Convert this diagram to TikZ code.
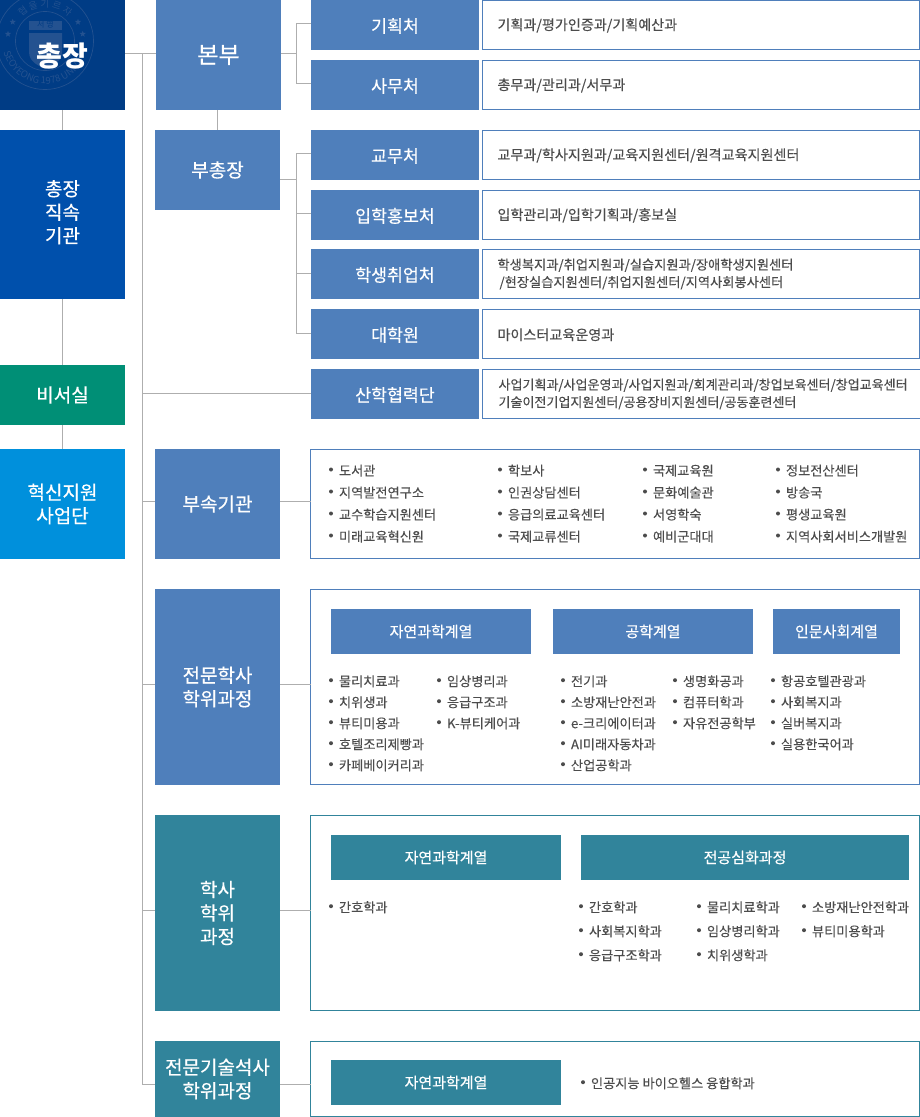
\documentclass[tikz,border=0pt]{standalone}
\usepackage{fontspec}
\setmainfont{Noto Sans CJK KR}
\newfontfamily\labelfont{Noto Sans CJK KR}[FakeBold=0.35]
\newfontfamily\bodyfont{Noto Sans CJK KR}[FakeBold=0.15]
\definecolor{presblue}{HTML}{003C85}
\definecolor{sealgray}{HTML}{245290}
\definecolor{directblue}{HTML}{0050AC}
\definecolor{secretgreen}{HTML}{008F76}
\definecolor{innovblue}{HTML}{0090DC}
\definecolor{deptblue}{HTML}{4F7FBB}
\definecolor{deptteal}{HTML}{31849B}
\definecolor{linegray}{HTML}{AEAEAE}
\definecolor{textgray}{HTML}{4C4C4C}
\usetikzlibrary{shapes.geometric,calc,decorations.text}
\tikzset{
  boxsize/.style 2 args={minimum width=#1,minimum height=#2},
  orgbox/.style={anchor=north west,inner sep=0,outer sep=0,align=center,text=white},
  bigbox/.style={orgbox,font=\labelfont\fontsize{19}{23.5}\selectfont},
  midbox/.style={orgbox,fill=deptblue,boxsize={168}{50},text height=15,text depth=0,font=\labelfont\fontsize{17.3}{20}\selectfont},
  headbox/.style={orgbox,font=\labelfont\fontsize{15}{18}\selectfont,minimum height=45},
  detailbox/.style={anchor=north west,draw=deptblue,line width=1pt,fill=white,inner xsep=15,inner ysep=0,outer sep=0,
    boxsize={437}{49},text width=407,align=left,text=textgray,font=\bodyfont\fontsize{14.1}{17.5}\selectfont},
  detailtwo/.style={detailbox,font=\bodyfont\fontsize{13.25}{17.5}\selectfont},
  detailone/.style={detailbox,text height=11,text depth=1},
  panelbox/.style={anchor=north west,draw=#1,line width=1pt,inner sep=0,outer sep=0,minimum width=609},
  listitem/.style={anchor=west,inner sep=0,outer sep=0,text height=11,text depth=0,text=textgray,font=\bodyfont\fontsize{13.2}{15}\selectfont},
  conn/.style={draw=linegray,line width=1pt},
  sealstar/.style={star,star points=5,star point ratio=2.4,fill=sealgray,inner sep=0,minimum size=6.5}
}
% column of bullet items: name, x, first y, row step, items
\newcommand{\itemcolumn}[5]{
  \foreach \txt [count=\n from 0] in {#5} {
    \node[listitem] (#1\n) at (#2,#3+\n*#4) {\txt};
    \fill[textgray] ($(#1\n.west)+(-8,-0.5)$) circle (2);
  }
}
\begin{document}
\begin{tikzpicture}[x=1pt,y=-1pt]
  \useasboundingbox (0,0) rectangle (920,1117);
  % president box with the faint seal
  \fill[presblue] (0,0) rectangle (125,110);
  \begin{scope}
    \clip (0,0) rectangle (125,110);
    \draw[sealgray,line width=0.7pt] (45,41) circle (48.5);
    \draw[sealgray,line width=0.7pt] (45,41) circle (29.5);
    \fill[sealgray] (29,21) rectangle (62,29.5);
    \node[inner sep=0,text=presblue,font=\fontsize{8}{8}\selectfont] (sealname) at (45.5,25) {서 영};
    \fill[sealgray] (29,33) -- (62,33) -- (62,52) .. controls (62,62) and (52,66) .. (45.5,69) .. controls (39,66) and (29,62) .. (29,52) -- cycle;
    \path[decorate,decoration={text along path,text align=center,text={|\color{sealgray}\fontsize{9.5}{9.5}\selectfont|협 을 기 르 자}}]
      (45,41) ++(205:33.5) arc[start angle=205,end angle=335,radius=33.5];
    \path[decorate,decoration={text along path,text align=center,text={|\color{sealgray}\fontsize{9.5}{9.5}\selectfont|SEOYEONG 1978 UNIV}}]
      (45,41) ++(178:43) arc[start angle=178,end angle=22,radius=43];
    \node[sealstar] (star1) at (12.7,22) {};
    \node[sealstar] (star2) at (78,22) {};
    \node[sealstar] (star3) at (8,34) {};
    \node[sealstar] (star4) at (82.7,34) {};
  \end{scope}

  % left column
  \node[orgbox,boxsize={125}{110},text height=23,text depth=0,font=\fontsize{28}{30}\selectfont\bfseries] (president) at (0,0) {총장};
  \node[bigbox,fill=directblue,boxsize={125}{169}] (direct) at (0,130) {총장\\직속\\기관\\[-17.5pt]\mbox{}};
  \node[bigbox,fill=secretgreen,boxsize={125}{60}] (secretary) at (0,365) {비서실};
  \node[bigbox,fill=innovblue,boxsize={125}{110}] (innovation) at (0,449) {혁신지원\\사업단};

  % second column
  \node[orgbox,fill=deptblue,boxsize={125}{110},font=\labelfont\fontsize{23}{26}\selectfont] (hq) at (156,0) {본부};
  \node[bigbox,fill=deptblue,boxsize={125}{80}] (vice) at (155,130) {부총장};
  \node[bigbox,fill=deptblue,boxsize={125}{110}] (attached) at (155,449) {부속기관};
  \node[bigbox,fill=deptblue,boxsize={125}{196}] (assoc) at (155,589) {전문학사\\학위과정};
  \node[bigbox,fill=deptteal,boxsize={125}{196}] (bachelor) at (155,815) {학사\\학위\\과정};
  \node[bigbox,fill=deptteal,boxsize={125}{76}] (master) at (155,1041) {전문기술석사\\학위과정};

  % offices
  \node[midbox] (planning) at (311,0) {기획처};
  \node[midbox] (affairs) at (311,60) {사무처};
  \node[midbox] (academic) at (311,130) {교무처};
  \node[midbox] (admission) at (311,190) {입학홍보처};
  \node[midbox] (student) at (311,249) {학생취업처};
  \node[midbox] (graduate) at (311,309) {대학원};
  \node[midbox] (industry) at (311,369) {산학협력단};

  \node[detailone] (planningDetail) at (482.5,0.5) {기획과/평가인증과/기획예산과};
  \node[detailone] (affairsDetail) at (482.5,60.5) {총무과/관리과/서무과};
  \node[detailone] (academicDetail) at (482.5,130.5) {교무과/학사지원과/교육지원센터/원격교육지원센터};
  \node[detailone] (admissionDetail) at (482.5,190.5) {입학관리과/입학기획과/홍보실};
  \node[detailtwo] (studentDetail) at (482.5,249.5) {학생복지과/취업지원과/실습지원과/장애학생지원센터\\\hspace*{2pt}/현장실습지원센터/취업지원센터/지역사회봉사센터};
  \node[detailone,text height=13] (graduateDetail) at (482.5,309.5) {마이스터교육운영과};
  \node[detailtwo,inner xsep=16,font=\bodyfont\fontsize{13.03}{17.5}\selectfont] (industryDetail) at (482.5,369.5) {사업기획과/사업운영과/사업지원과/회계관리과/창업보육센터/창업교육센터\\기술이전기업지원센터/공용장비지원센터/공동훈련센터};

  % panels
  \node[panelbox=deptblue,minimum height=109] (attachedDetail) at (310.5,449.5) {};
  \node[panelbox=deptblue,minimum height=195] (assocDetail) at (310.5,589.5) {};
  \node[panelbox=deptteal,minimum height=195] (bachelorDetail) at (310.5,815.5) {};
  \node[panelbox=deptteal,minimum height=75] (masterDetail) at (310.5,1041) {};

  \itemcolumn{attachedA}{339}{470}{22}{도서관,지역발전연구소,교수학습지원센터,미래교육혁신원}
  \itemcolumn{attachedB}{508}{470}{22}{학보사,인권상담센터,응급의료교육센터,국제교류센터}
  \itemcolumn{attachedC}{653}{470}{22}{국제교육원,문화예술관,서영학숙,예비군대대}
  \itemcolumn{attachedD}{786}{470}{22}{정보전산센터,방송국,평생교육원,지역사회서비스개발원}

  % associate degree
  \node[headbox,fill=deptblue,minimum width=200] (assocScience) at (331,609) {자연과학계열};
  \node[headbox,fill=deptblue,minimum width=200] (assocEngineer) at (553,609) {공학계열};
  \node[headbox,fill=deptblue,minimum width=127] (assocHuman) at (773,609) {인문사회계열};
  \itemcolumn{assocA}{339}{680.7}{21}{물리치료과,치위생과,뷰티미용과,호텔조리제빵과,카페베이커리과}
  \itemcolumn{assocB}{447}{680.7}{21}{임상병리과,응급구조과,K-뷰티케어과}
  \itemcolumn{assocC}{571}{680.7}{21}{전기과,소방재난안전과,e-크리에이터과,AI미래자동차과,산업공학과}
  \itemcolumn{assocD}{683}{680.7}{21}{생명화공과,컴퓨터학과,자유전공학부}
  \itemcolumn{assocE}{781}{680.7}{21}{항공호텔관광과,사회복지과,실버복지과,실용한국어과}

  % bachelor degree
  \node[headbox,fill=deptteal,minimum width=230] (bachelorScience) at (331,835) {자연과학계열};
  \node[headbox,fill=deptteal,minimum width=328] (bachelorAdvanced) at (581,835) {전공심화과정};
  \itemcolumn{bachelorA}{339}{906.7}{24}{간호학과}
  \itemcolumn{bachelorB}{589}{906.7}{24}{간호학과,사회복지학과,응급구조학과}
  \itemcolumn{bachelorC}{707}{906.7}{24}{물리치료학과,임상병리학과,치위생학과}
  \itemcolumn{bachelorD}{812}{906.7}{24}{소방재난안전학과,뷰티미용학과}

  % master degree
  \node[headbox,fill=deptteal,minimum width=230] (masterScience) at (331,1060) {자연과학계열};
  \itemcolumn{masterA}{591}{1082.7}{24}{인공지능 바이오헬스 융합학과}

  % connectors
  \coordinate (trunkTop) at (142,53.5);
  \coordinate (trunkEnd) at (142,1084.5);
  \coordinate (hqFork) at (296.5,53.5);
  \coordinate (viceFork) at (296.5,179.5);
  \draw[conn] (president.east |- trunkTop) -- (hq.west |- trunkTop);
  \draw[conn] (trunkTop) -- (trunkEnd);
  \draw[conn] (president.south) -- (direct.north);
  \draw[conn] (direct.south) -- (secretary.north);
  \draw[conn] (secretary.south) -- (innovation.north);
  \draw[conn] (hq.south -| vice.north) -- (vice.north);
  \draw[conn] (hq.east |- hqFork) -- (hqFork);
  \draw[conn] ([yshift=1.5pt]planning.west) -| (hqFork) |- ([yshift=1.5pt]affairs.west);
  \draw[conn] (vice.east |- viceFork) -- (viceFork);
  \draw[conn] ([yshift=1.5pt]academic.west) -| (viceFork) |- ([yshift=1pt]graduate.west);
  \draw[conn] ([yshift=1.5pt]admission.west) -- ([yshift=1.5pt]admission.west -| viceFork);
  \draw[conn] ([yshift=1pt]student.west) -- ([yshift=1pt]student.west -| viceFork);
  \draw[conn] ([yshift=1pt]industry.west -| trunkTop) -- ([yshift=1pt]industry.west);
  \foreach \branch/\ypos/\block/\panel in {one/501.5/attached/attachedDetail,two/684.5/assoc/assocDetail,three/910.5/bachelor/bachelorDetail,four/1084.5/master/masterDetail} {
    \coordinate (branch\branch) at (142,\ypos);
    \draw[conn] (branch\branch) -- (branch\branch -| \block.west);
    \draw[conn] (branch\branch -| \block.east) -- (branch\branch -| \panel.west);
  }
\end{tikzpicture}
\end{document}
